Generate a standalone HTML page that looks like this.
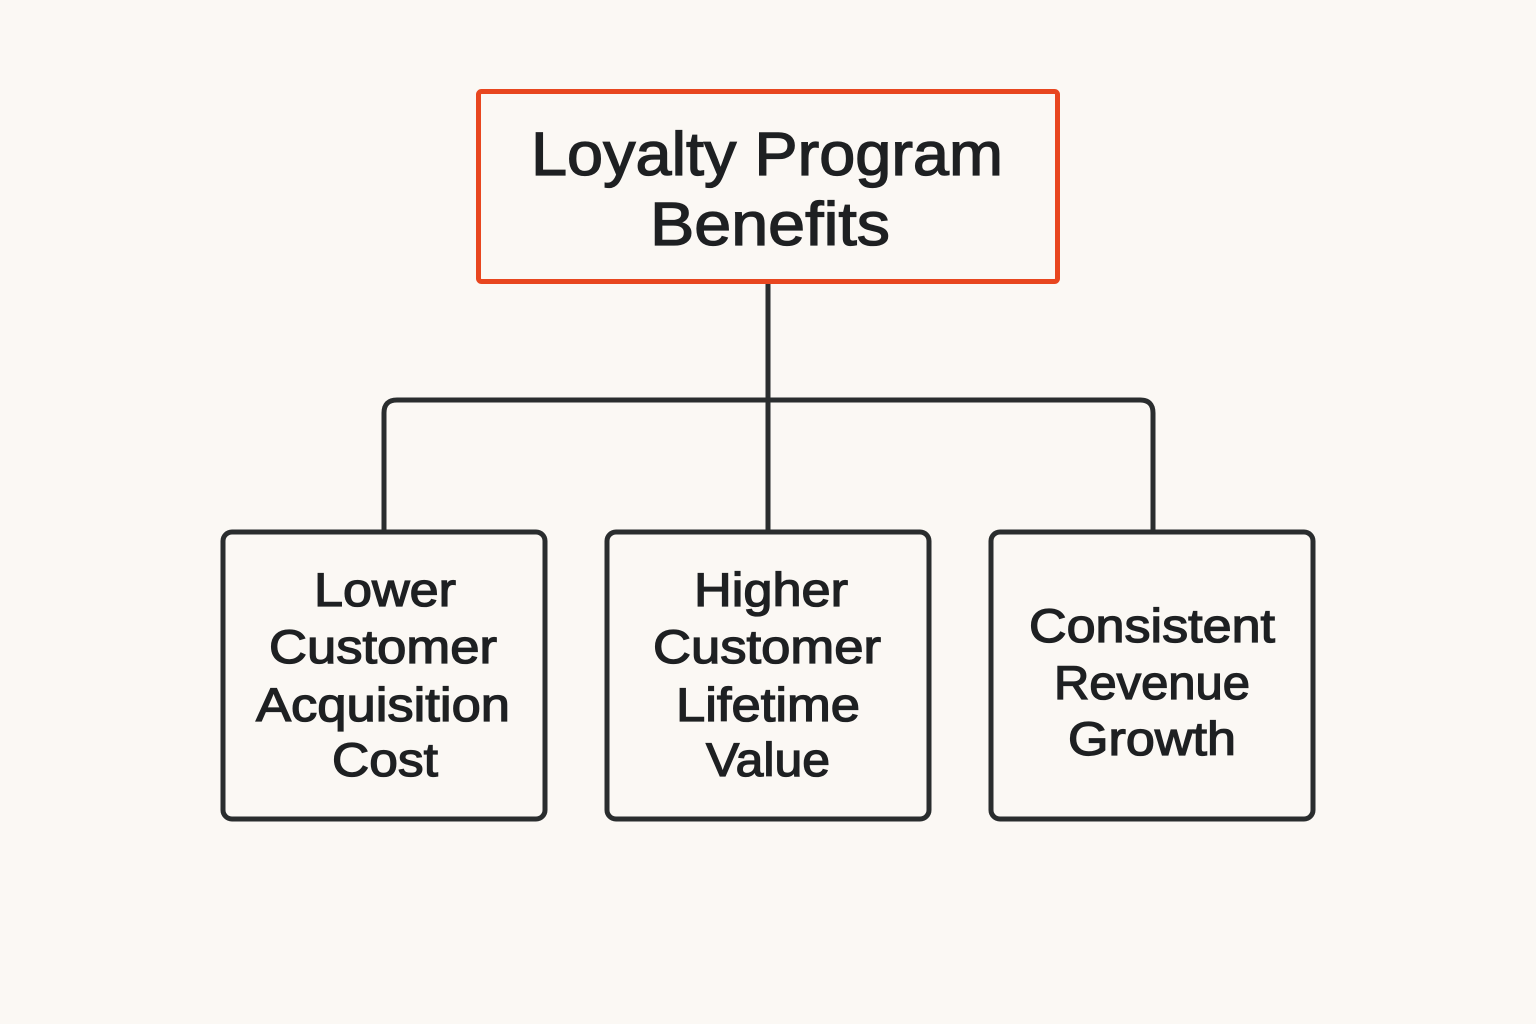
<!DOCTYPE html>
<html><head><meta charset="utf-8"><style>
html,body{margin:0;padding:0;background:#fbf8f4;}
svg{display:block}
text{font-family:"Liberation Sans",sans-serif;fill:#1e2022;stroke:#1e2022;stroke-width:1.3;text-anchor:middle;}
</style></head><body>
<svg width="1536" height="1024" viewBox="0 0 1536 1024">
<rect width="1536" height="1024" fill="#fbf8f4"/>
<rect x="478.5" y="91.5" width="579" height="190" rx="3" fill="none" stroke="#e8461f" stroke-width="5"/>
<text x="767" y="175" font-size="61" textLength="472" lengthAdjust="spacingAndGlyphs">Loyalty Program</text>
<text x="770" y="245" font-size="61" textLength="240" lengthAdjust="spacingAndGlyphs">Benefits</text>
<g fill="none" stroke="#2a2d2e" stroke-width="5" stroke-linejoin="round">
<line x1="768" y1="284" x2="768" y2="531"/>
<path d="M384 531 V413 Q384 400 397 400 H1140 Q1153 400 1153 413 V531"/>
<rect x="223" y="532" width="322" height="287" rx="9"/>
<rect x="607" y="532" width="322" height="287" rx="9"/>
<rect x="991" y="532" width="322" height="287" rx="9"/>
</g>
<g font-size="47">
<text x="385" y="606" textLength="142" lengthAdjust="spacingAndGlyphs">Lower</text>
<text x="383" y="663" textLength="228" lengthAdjust="spacingAndGlyphs">Customer</text>
<text x="383" y="721" textLength="254" lengthAdjust="spacingAndGlyphs">Acquisition</text>
<text x="385" y="776" textLength="106" lengthAdjust="spacingAndGlyphs">Cost</text>
<text x="771" y="606" textLength="154" lengthAdjust="spacingAndGlyphs">Higher</text>
<text x="767" y="663" textLength="228" lengthAdjust="spacingAndGlyphs">Customer</text>
<text x="768" y="721" textLength="184" lengthAdjust="spacingAndGlyphs">Lifetime</text>
<text x="768" y="776" textLength="124" lengthAdjust="spacingAndGlyphs">Value</text>
<text x="1152" y="642" textLength="246" lengthAdjust="spacingAndGlyphs">Consistent</text>
<text x="1152" y="699" textLength="196" lengthAdjust="spacingAndGlyphs">Revenue</text>
<text x="1152" y="755" textLength="168" lengthAdjust="spacingAndGlyphs">Growth</text>
</g>
</svg>
</body></html>
